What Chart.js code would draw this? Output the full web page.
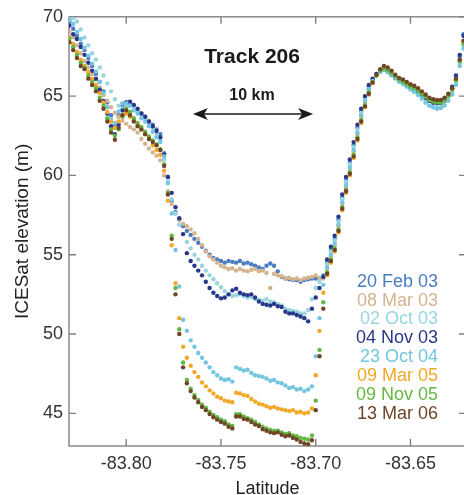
<!DOCTYPE html>
<html>
<head>
<meta charset="utf-8">
<script src="https://cdn.jsdelivr.net/npm/chart.js@4.4.1/dist/chart.umd.min.js"></script>
<style>
  html, body { margin: 0; padding: 0; background: #fff; overflow: hidden; }
</style>
</head>
<body>
<canvas id="track" width="470" height="495"></canvas>
<script>
// along-track latitude of each shot
const latitude = [
  -83.830, -83.828, -83.826, -83.824, -83.822, -83.820, -83.818, -83.816, -83.814, -83.812,
  -83.810, -83.808, -83.806, -83.804, -83.802, -83.800, -83.798, -83.796, -83.794, -83.792,
  -83.790, -83.788, -83.786, -83.784, -83.782, -83.780, -83.778, -83.776, -83.774, -83.772,
  -83.770, -83.768, -83.766, -83.764, -83.762, -83.760, -83.758, -83.756, -83.754, -83.752,
  -83.750, -83.748, -83.746, -83.744, -83.742, -83.740, -83.738, -83.736, -83.734, -83.732,
  -83.730, -83.728, -83.726, -83.724, -83.722, -83.720, -83.718, -83.716, -83.714, -83.712,
  -83.710, -83.708, -83.706, -83.704, -83.702, -83.700, -83.698, -83.696, -83.694, -83.692,
  -83.690, -83.688, -83.686, -83.684, -83.682, -83.680, -83.678, -83.676, -83.674, -83.672,
  -83.670, -83.668, -83.666, -83.664, -83.662, -83.660, -83.658, -83.656, -83.654, -83.652,
  -83.650, -83.648, -83.646, -83.644, -83.642, -83.640, -83.638, -83.636, -83.634, -83.632,
  -83.630, -83.628, -83.626, -83.624, -83.622
];

// elevations (m) for each pass
const feb03 = [
  69.7, 69.25, 68.8, 68.3, 67.9, 67.4, 66.9, 66.4, 65.9, 65.3, 64.6, 63.8, 63.2, 63.8, 64.4, 64.6, 64.6, 64.4, 64.1, 63.9, 63.7, 63.4, 63.2, 62.9, 62.6,
  61.4, 59.9, 58.4, 57.7, 57.2, 56.8, 56.5, 56.25, 56.0, 55.75, 55.5, 55.25, 55.0, 54.8, 54.7, 54.6, 54.5, 54.6, 54.55, 54.5, 54.6, 54.45, 54.5, 54.4, 54.3,
  54.2, 54.1, 54.3, 54.45, 54.3, 53.95, 53.6, 53.5, 53.45, 53.4, 53.4, 53.3, 53.4, 53.45, 53.5, 53.5, 53.5, 53.7,
  54.5, 55.3, 56.0, 57.2, 58.6, 59.7, 60.8, 61.9, 63.0, 64.05, 64.9, 65.6,
  66.05, 66.4, 66.6, 66.75, 66.6, 66.4, 66.2, 66.0, 65.85, 65.7, 65.55,
  65.45, 65.3, 65.1, 64.9, 64.7, 64.6, 64.55, 64.55, 64.7, 65.0, 65.5, 66.2, 67.5, 68.9
];
const mar03 = [
  69.05, 68.7, 68.2, 67.7, 67.2, 66.8, 66.4, 66.05, 65.55, 65.05, 64.7, 64.3, 63.95, 63.7, 63.45, 63.25, 63.05, 62.9, 62.7, 62.3, 62.0, 61.7, 61.45, 61.25, 60.95,
  60.0, 59.0, 58.2, 57.6, 57.2, 56.95, 56.8, 56.6, 56.35, 56.0, 55.6, 55.2, 54.9, 54.7, 54.5, 54.3, 54.2, 54.1, 54.15, 54.0, 54.1, 54.0, 53.95, 54.05, 54.1,
  53.95, 54.0, 53.85, 52.9, 53.8, 53.7, 53.65, 53.5, 53.55, 53.45, 53.5, 53.4, 53.5, 53.55, 53.6, 53.7, 53.5, 53.5,
  54.1, 54.9, 55.6, 56.8, 58.2, 59.3, 60.4, 61.5, 62.6, 63.7, 64.6, 65.4,
  65.95, 66.35, 66.6, 66.8, 66.65, 66.45, 66.25, 66.05, 65.95, 65.8, 65.65,
  65.55, 65.4, 65.2, 65.0, 64.8, 64.7, 64.65, 64.65, 64.8, 65.05, 65.4, 66.0, 67.2, 68.3
];
const oct03 = [
  69.9, 69.9, 69.7, 69.2, 68.7, 68.2, 67.7, 67.3, 66.8, 66.3, 65.8, 65.3, 64.8, 64.4, 64.2, 64.3, 64.4, 64.25, 64.1, 63.9, 63.6, 63.3, 63.0, 62.6, 62.2,
  61.0, 59.6, 58.5, 57.6, 56.9, 56.3, 55.8, 55.4, 55.0, 54.7, 54.3, 54.0, 53.7, 53.45, 53.2, 52.95, 52.7, 52.5, 52.4, 52.45, 52.5, 52.4, 52.3, 52.35, 52.2,
  52.15, 52.1, 52.2, 52.05, 52.0, 51.9, 51.8, 51.6, 51.5, 51.45, 51.4, 51.3, 51.3, 51.5, 52.2, 52.9, 53.3, 53.6,
  54.4, 55.2, 55.9, 57.1, 58.5, 59.6, 60.7, 61.8, 62.9, 63.95, 64.8, 65.5,
  65.95, 66.3, 66.5, 66.65, 66.5, 66.3, 66.1, 65.9, 65.75, 65.6, 65.4,
  65.25, 65.05, 64.85, 64.6, 64.4, 64.3, 64.25, 64.3, 64.45, 64.75, 65.2, 65.8, 67.1, 68.2
];
const nov03 = [
  69.45, 68.9, 68.6, 68.1, 67.6, 67.1, 66.6, 66.1, 65.4, 64.7, 63.9, 63.1, 62.6, 63.2, 64.1, 64.6, 64.65, 64.45, 64.2, 63.9, 63.7, 63.4, 63.1, 62.8, 62.4,
  61.3, 59.9, 58.9, 58.0, 57.3, 56.3, 55.1, 54.6, 54.3, 54.0, 53.7, 53.3, 52.9, 52.6, 52.4, 52.25, 52.3, 52.5, 52.75, 52.85, 52.6, 52.5, 52.45, 52.5, 52.3,
  52.05, 51.9, 51.85, 51.8, 51.9, 51.75, 51.7, 51.4, 51.3, 51.3, 51.2, 51.1, 51.0, 50.8, 51.6, 52.3, 52.9, 53.6,
  54.7, 55.5, 56.2, 57.4, 58.8, 59.9, 61.0, 62.1, 63.2, 64.2, 65.0, 65.7,
  66.1, 66.4, 66.6, 66.7, 66.55, 66.35, 66.15, 65.95, 65.85, 65.7, 65.55,
  65.45, 65.3, 65.1, 64.9, 64.7, 64.6, 64.55, 64.6, 64.8, 65.1, 65.6, 66.3, 67.6, 68.8
];
const oct04 = [
  69.8, 69.55, 69.05, 68.6, 68.05, 67.55, 67.05, 66.55, 65.9, 65.2, 64.3, 63.55, 63.3, 64.05, 64.55, 64.55, 64.4, 64.1, 63.9, 63.6, 63.4, 63.1, 62.75, 62.4, 62.1,
  61.2, 59.5, 57.6, 55.3, 53.0, 50.9, 50.2, 49.6, 49.2, 48.8, 48.5, 48.2, 47.9, 47.6, 47.4, 47.2, 47.1, 47.15, 47.0, 47.9, 47.8, 47.7, 47.75, 47.55, 47.4,
  47.35, 47.3, 47.2, 47.05, 47.1, 46.95, 46.9, 46.75, 46.6, 46.65, 46.5, 46.55, 46.4, 46.5, 46.7, 48.6, 51.0, 53.1,
  54.2, 55.0, 55.7, 56.9, 58.3, 59.4, 60.5, 61.6, 62.7, 63.8, 64.7, 65.45,
  65.95, 66.3, 66.55, 66.7, 66.55, 66.35, 66.15, 65.95, 65.8, 65.6, 65.45,
  65.3, 65.1, 64.85, 64.6, 64.4, 64.3, 64.2, 64.25, 64.4, 64.7, 65.1, 65.7, 66.9, 68.0
];
const mar05 = [
  68.7, 68.3, 67.8, 67.3, 66.9, 66.5, 66.1, 65.7, 65.2, 64.6, 64.0, 63.4, 63.0, 63.4, 63.8, 63.9, 63.7, 63.45, 63.2, 62.9, 62.6, 62.3, 61.9, 61.6, 61.3,
  60.3, 58.4, 55.6, 53.2, 51.0, 49.2, 48.5, 48.0, 47.6, 47.3, 46.95, 46.7, 46.45, 46.25, 46.05, 45.95, 45.8, 45.75, 45.7, 46.3, 46.25, 46.15, 46.1, 45.9, 45.75,
  45.6, 45.55, 45.45, 45.35, 45.4, 45.3, 45.25, 45.2, 45.15, 45.2, 45.05, 45.1, 45.0, 45.05, 45.3, 47.4, 50.2, 52.6,
  53.7, 54.5, 55.2, 56.4, 57.8, 58.9, 60.0, 61.1, 62.2, 63.3, 64.3, 65.1,
  65.8, 66.3, 66.65, 66.85, 66.75, 66.55, 66.3, 66.1, 66.0, 65.85, 65.7,
  65.6, 65.45, 65.25, 65.05, 64.85, 64.75, 64.7, 64.7, 64.85, 65.1, 65.45, 66.05, 67.25, 68.4
];
const nov05 = [
  68.6, 68.1, 67.6, 67.1, 66.8, 66.3, 65.9, 65.5, 64.9, 64.4, 63.6, 62.9, 62.5, 62.9, 63.7, 64.2, 64.0, 63.6, 63.3, 63.05, 62.75, 62.45, 62.2, 61.95, 61.65,
  60.7, 58.9, 56.2, 52.9, 50.3, 48.2, 47.1, 46.55, 46.15, 45.85, 45.55, 45.35, 45.1, 44.9, 44.75, 44.6, 44.5, 44.3, 44.2, 44.95, 44.95, 44.8, 44.7, 44.6, 44.45,
  44.3, 44.15, 44.05, 43.95, 43.9, 43.9, 43.8, 43.7, 43.75, 43.6, 43.55, 43.45, 43.4, 43.35, 43.6, 45.8, 49.0, 52.0,
  53.9, 54.7, 55.4, 56.6, 58.0, 59.1, 60.2, 61.3, 62.4, 63.5, 64.45, 65.25,
  65.9, 66.3, 66.6, 66.75, 66.65, 66.45, 66.25, 66.05, 65.9, 65.75, 65.6,
  65.5, 65.35, 65.15, 64.95, 64.75, 64.65, 64.6, 64.6, 64.75, 65.0, 65.4, 66.0, 67.2, 68.3
];
const mar06 = [
  68.4, 67.9, 67.4, 66.9, 66.7, 66.1, 65.7, 65.3, 64.7, 64.2, 63.4, 62.7, 62.25, 63.0, 63.8, 64.1, 63.8, 63.4, 63.1, 62.9, 62.6, 62.3, 62.1, 61.9, 61.6,
  60.6, 58.8, 56.0, 52.5, 50.0, 47.9, 46.9, 46.4, 46.0, 45.7, 45.4, 45.2, 44.95, 44.75, 44.6, 44.45, 44.35, 44.15, 44.05, 44.8, 44.8, 44.65, 44.6, 44.45, 44.3,
  44.2, 44.0, 43.9, 43.8, 43.75, 43.8, 43.65, 43.55, 43.6, 43.45, 43.35, 43.2, 43.1, 43.05, 43.3, 45.2, 48.6, 51.6,
  53.8, 54.6, 55.3, 56.5, 57.9, 59.0, 60.1, 61.2, 62.3, 63.4, 64.35, 65.15,
  65.85, 66.35, 66.7, 66.9, 66.8, 66.6, 66.35, 66.15, 66.05, 65.9, 65.75,
  65.65, 65.5, 65.3, 65.1, 64.9, 64.8, 64.75, 64.75, 64.9, 65.15, 65.5, 66.1, 67.3, 68.5
];

const passLabels = ['20 Feb 03', '08 Mar 03', '02 Oct 03', '04 Nov 03', '23 Oct 04', '09 Mar 05', '09 Nov 05', '13 Mar 06'];
const passColors = ['#4a7cc4', '#d4b48e', '#98d5de', '#28378a', '#72c6e0', '#f2a828', '#63b843', '#6f4526'];
const passes = [feb03, mar03, oct03, nov03, oct04, mar05, nov05, mar06];

const latTicks = [-83.80, -83.75, -83.70, -83.65];
const elevTicks = [45, 50, 55, 60, 65, 70];

const FONT = "'Liberation Sans', Arial, Helvetica, sans-serif";
Chart.defaults.font.family = FONT;

// box with inward ticks on all four sides
const frame = {
  id: 'frame',
  beforeDatasetsDraw(chart) {
    const { ctx, chartArea: a, scales: { x, y } } = chart;
    ctx.save();
    ctx.strokeStyle = '#808080';
    ctx.lineWidth = 1.4;
    ctx.strokeRect(a.left, a.top, a.right - a.left, a.bottom - a.top);
    ctx.beginPath();
    latTicks.forEach(v => {
      const px = x.getPixelForValue(v);
      ctx.moveTo(px, a.bottom); ctx.lineTo(px, a.bottom - 7);
      ctx.moveTo(px, a.top); ctx.lineTo(px, a.top + 7);
    });
    elevTicks.forEach(v => {
      const py = y.getPixelForValue(v);
      ctx.moveTo(a.left, py); ctx.lineTo(a.left + 7, py);
      ctx.moveTo(a.right, py); ctx.lineTo(a.right - 7, py);
    });
    ctx.stroke();
    ctx.restore();
  }
};

function arrowHead(ctx, px, py, dir) {
  ctx.beginPath();
  ctx.moveTo(px, py);
  ctx.lineTo(px - dir * 15, py - 6);
  ctx.lineTo(px - dir * 11, py);
  ctx.lineTo(px - dir * 15, py + 6);
  ctx.closePath();
  ctx.fill();
}

// title, scale arrow and the coloured pass list
const notes = {
  id: 'notes',
  afterDatasetsDraw(chart) {
    const { ctx, chartArea: a, scales: { x, y } } = chart;
    ctx.save();
    ctx.fillStyle = '#1a1a1a';
    ctx.strokeStyle = '#1a1a1a';
    ctx.textAlign = 'center';
    ctx.textBaseline = 'middle';
    const cx = x.getPixelForValue(-83.7336);
    ctx.font = 'bold 21px ' + FONT;
    ctx.fillText('Track 206', cx, y.getPixelForValue(67.45));
    ctx.font = 'bold 16px ' + FONT;
    ctx.fillText('10 km', cx, y.getPixelForValue(65.05));

    const ay = y.getPixelForValue(63.875);
    const x1 = x.getPixelForValue(-83.7648);
    const x2 = x.getPixelForValue(-83.7014);
    ctx.lineWidth = 1.6;
    ctx.beginPath();
    ctx.moveTo(x1 + 10, ay);
    ctx.lineTo(x2 - 10, ay);
    ctx.stroke();
    arrowHead(ctx, x1, ay, -1);
    arrowHead(ctx, x2, ay, 1);

    ctx.font = '18px ' + FONT;
    ctx.textAlign = 'right';
    const lx = a.right - 28;
    const ly = y.getPixelForValue(53.3);
    chart.data.datasets.forEach((ds, i) => {
      ctx.fillStyle = ds.backgroundColor;
      ctx.fillText(ds.label, lx, ly + i * 18.9);
    });
    ctx.restore();
  }
};

const datasets = passes.map((elev, i) => ({
  label: passLabels[i],
  data: latitude.map((lat, j) => ({ x: lat, y: elev[j] })),
  backgroundColor: passColors[i],
  borderWidth: 0,
  pointRadius: 2.2,
  // later passes sit on top
  order: passes.length - i
}));

new Chart(document.getElementById('track'), {
  type: 'scatter',
  data: { datasets },
  options: {
    responsive: false,
    devicePixelRatio: 1,
    animation: false,
    layout: { padding: { top: 13, right: 4, left: 0, bottom: 0 } },
    plugins: { legend: { display: false }, tooltip: { enabled: false } },
    scales: {
      x: {
        type: 'linear',
        min: -83.8302,
        max: -83.6207,
        grid: { display: false, drawTicks: false },
        border: { display: false },
        afterBuildTicks: s => { s.ticks = latTicks.map(v => ({ value: v })); },
        afterFit: s => { s.height = 49; },
        ticks: {
          autoSkip: false,
          maxRotation: 0,
          padding: 7,
          color: '#333',
          font: { size: 18 },
          callback: v => v.toFixed(2)
        },
        title: {
          display: true,
          text: 'Latitude',
          color: '#222',
          font: { size: 18 },
          padding: { top: 0, bottom: -5 }
        }
      },
      y: {
        min: 42.94,
        max: 70,
        grid: { display: false, drawTicks: false },
        border: { display: false },
        afterBuildTicks: s => { s.ticks = elevTicks.map(v => ({ value: v })); },
        afterFit: s => { s.width = 69; },
        ticks: {
          padding: 6,
          color: '#333',
          font: { size: 18 },
          callback: v => String(v)
        },
        title: {
          display: true,
          text: 'ICESat elevation (m)',
          color: '#222',
          font: { size: 19 },
          padding: { top: 11, bottom: 0 }
        }
      }
    }
  },
  plugins: [frame, notes]
});
</script>
</body>
</html>
